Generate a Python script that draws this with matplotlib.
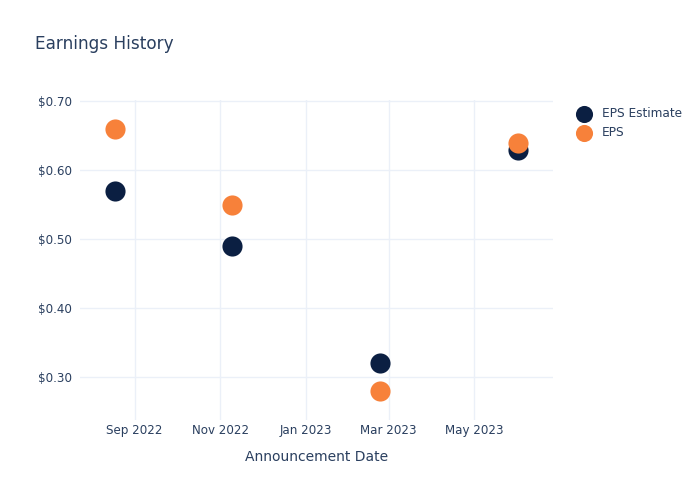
import datetime as dt
import matplotlib
matplotlib.use("Agg")
import matplotlib.pyplot as plt
import matplotlib.dates as mdates
from matplotlib.ticker import FuncFormatter

dates = [dt.date(2022, 8, 18), dt.date(2022, 11, 9), dt.date(2023, 2, 23), dt.date(2023, 6, 1)]
eps_estimate = [0.57, 0.49, 0.32, 0.63]
eps_actual = [0.66, 0.55, 0.28, 0.64]

text_col = "#2a3f5f"
grid_col = "#ebf0f8"

plt.rcParams["font.family"] = "DejaVu Sans"

fig = plt.figure(figsize=(7, 5), dpi=100)
ax = fig.add_axes([80 / 700, 80 / 500, 473 / 700, 320 / 500])

ax.scatter(dates, eps_estimate, s=210, color="#0b1f42", label="EPS Estimate", zorder=3, linewidths=0)
ax.scatter(dates, eps_actual, s=210, color="#f7813a", label="EPS", zorder=4, linewidths=0)

ax.set_xlim(dt.date(2022, 7, 24), dt.date(2023, 6, 26))
ax.set_ylim(0.238, 0.702)
ax.set_yticks([0.3, 0.4, 0.5, 0.6, 0.7])
ax.yaxis.set_major_formatter(FuncFormatter(lambda v, p: f"${v:.2f}"))
ax.set_xticks([dt.date(2022, 9, 1), dt.date(2022, 11, 1), dt.date(2023, 1, 1),
               dt.date(2023, 3, 1), dt.date(2023, 5, 1)])
ax.xaxis.set_major_formatter(mdates.DateFormatter("%b %Y"))

ax.grid(True, color=grid_col, linewidth=1)
ax.set_axisbelow(True)
for s in ax.spines.values():
    s.set_visible(False)
ax.tick_params(length=0, labelsize=8.6, colors=text_col)
ax.tick_params(axis="x", pad=3)
ax.tick_params(axis="y", pad=6)
ax.set_xlabel("Announcement Date", fontsize=10, color=text_col, labelpad=9)

fig.text(35 / 700, 1 - 44 / 500, "Earnings History", fontsize=12.2, color=text_col, va="center")

leg = ax.legend(loc="upper left", bbox_to_anchor=(1.024, 1.0), frameon=False, fontsize=8.7,
                labelcolor=text_col, handletextpad=0.5, borderaxespad=0.2,
                labelspacing=0.5, markerscale=0.85)

fig.savefig("out.png", dpi=100)
